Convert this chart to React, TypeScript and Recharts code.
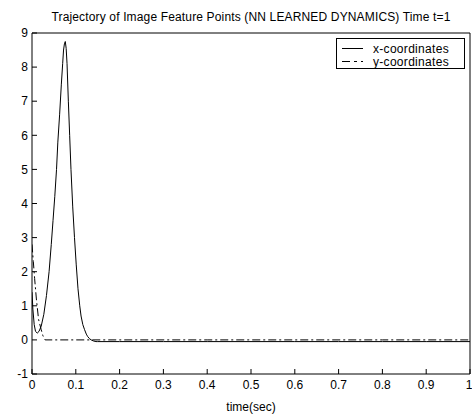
import { LineChart, Line, XAxis, YAxis } from "recharts";

// x-coordinates trajectory (solid)
const timeX = [
  0, 0.002, 0.005, 0.008, 0.012, 0.016, 0.021, 0.027, 0.033, 0.039, 0.044,
  0.048, 0.052, 0.056, 0.059, 0.063, 0.067, 0.07, 0.072, 0.074, 0.076, 0.078,
  0.08, 0.083, 0.086, 0.089, 0.093, 0.097, 0.101, 0.105, 0.109, 0.112, 0.116,
  0.12, 0.124, 0.127, 0.131, 0.135, 0.14, 0.146, 0.15, 0.2, 0.3, 0.4, 0.5,
  0.6, 0.7, 0.8, 0.9, 1,
];
const xCoords = [
  1.4, 0.9, 0.45, 0.25, 0.2, 0.25, 0.4, 0.75, 1.3, 2.0, 2.8, 3.5, 4.2, 5.0,
  5.8, 6.6, 7.5, 8.1, 8.5, 8.68, 8.75, 8.55, 8.1, 7.0, 6.0, 5.0, 3.9, 3.0,
  2.2, 1.5, 1.0, 0.7, 0.45, 0.3, 0.17, 0.1, 0.04, 0.0, -0.03, -0.05, -0.05,
  -0.05, -0.05, -0.05, -0.05, -0.05, -0.05, -0.05, -0.05, -0.05,
];

// y-coordinates trajectory (dash-dot)
const timeY = [0, 0.003, 0.006, 0.01, 0.015, 0.021, 0.025, 0.03, 0.2, 0.4, 0.6, 0.8, 1];
const yCoords = [2.8, 2.3, 1.8, 1.2, 0.6, 0.3, 0.12, 0, 0, 0, 0, 0, 0];

const xTicks = [0, 0.1, 0.2, 0.3, 0.4, 0.5, 0.6, 0.7, 0.8, 0.9, 1];
const yTicks = [-1, 0, 1, 2, 3, 4, 5, 6, 7, 8, 9];

const chartTitle = "Trajectory of Image Feature Points (NN LEARNED DYNAMICS) Time t=1";
const seriesNames = ["x-coordinates", "y-coordinates"];

const xData = timeX.map((t, i) => ({ t, v: xCoords[i] }));
const yData = timeY.map((t, i) => ({ t, v: yCoords[i] }));

const family = "'Liberation Sans', Arial, sans-serif";
const font = { fontFamily: family, fontSize: 12, fill: "#000" };

const LegendBox = () => (
  <svg
    width={130}
    height={32}
    style={{ position: "absolute", left: 336, top: 38 }}
  >
    <rect x={0.5} y={0.5} width={128} height={30} fill="#fff" stroke="#000" />
    <line x1={6} x2={27} y1={10.5} y2={10.5} stroke="#000" />
    <text x={37} y={15} {...font} letterSpacing={0.3}>{seriesNames[0]}</text>
    <line x1={6} x2={27} y1={23.5} y2={23.5} stroke="#000" strokeDasharray="8 4 3 4" />
    <text x={37} y={28} {...font} letterSpacing={0.3}>{seriesNames[1]}</text>
  </svg>
);

export default function App() {
  return (
    <div style={{ position: "absolute", left: 0, top: 0, width: 472, height: 415, background: "#fff" }}>
      <div
        style={{
          position: "absolute",
          top: 10,
          left: 32,
          width: 438,
          textAlign: "center",
          fontFamily: family,
          fontSize: 12,
          letterSpacing: 0.15,
          color: "#000",
          whiteSpace: "nowrap",
        }}
      >
        {chartTitle}
      </div>
      <LineChart width={472} height={415} margin={{ top: 32, right: 0, bottom: 0, left: 0 }}>
        <XAxis
          xAxisId="b"
          dataKey="t"
          type="number"
          domain={[0, 1]}
          ticks={xTicks}
          allowDataOverflow
          height={41}
          stroke="#000"
          tickSize={-5}
          tickMargin={11}
          tick={font}
          label={{ value: "time(sec)", position: "insideBottom", offset: 4, ...font }}
        />
        <XAxis
          xAxisId="t"
          orientation="top"
          dataKey="t"
          type="number"
          domain={[0, 1]}
          ticks={xTicks}
          height={1}
          stroke="#000"
          tickSize={-5}
          tick={false}
        />
        <YAxis
          yAxisId="l"
          type="number"
          domain={[-1, 9]}
          ticks={yTicks}
          allowDataOverflow
          width={32}
          stroke="#000"
          tickSize={-5}
          tickMargin={9}
          tick={font}
        />
        <YAxis
          yAxisId="r"
          orientation="right"
          type="number"
          domain={[-1, 9]}
          ticks={yTicks}
          width={2}
          stroke="#000"
          tickSize={-5}
          tick={false}
        />
        <Line
          xAxisId="b"
          yAxisId="l"
          data={xData}
          dataKey="v"
          name={seriesNames[0]}
          type="linear"
          stroke="#000"
          strokeWidth={1}
          dot={false}
          isAnimationActive={false}
        />
        <Line
          xAxisId="b"
          yAxisId="l"
          data={yData}
          dataKey="v"
          name={seriesNames[1]}
          type="linear"
          stroke="#000"
          strokeWidth={1}
          strokeDasharray="8 3 2 3"
          dot={false}
          isAnimationActive={false}
        />
      </LineChart>
      <LegendBox />
    </div>
  );
}
